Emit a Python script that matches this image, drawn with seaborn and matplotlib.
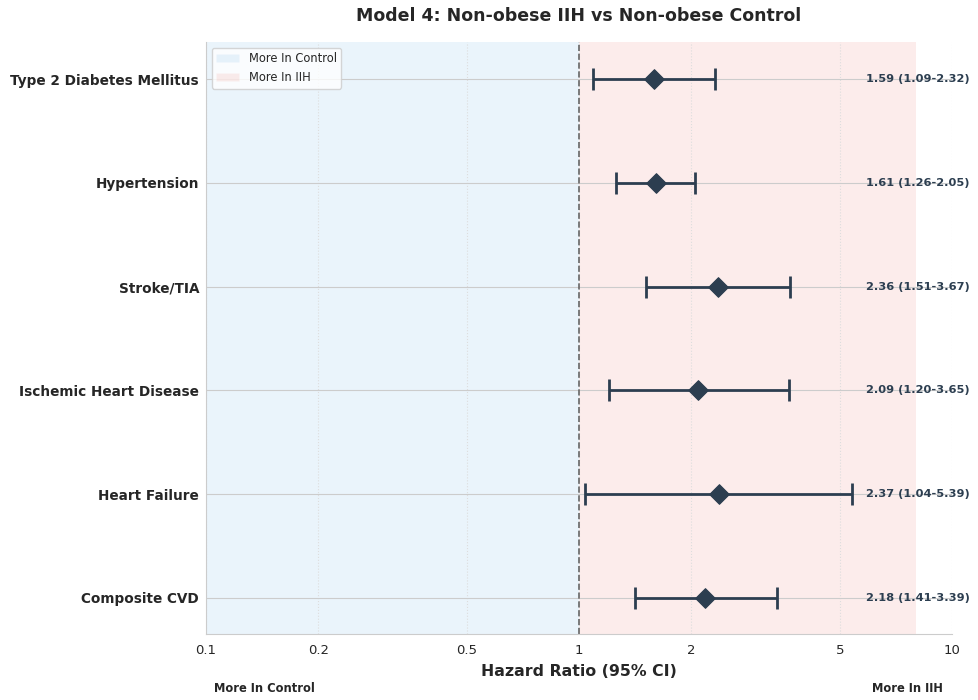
import seaborn as sns
import matplotlib.pyplot as plt
import pandas as pd
from matplotlib.patches import Patch

outcomes = ['Type 2 Diabetes Mellitus', 'Hypertension', 'Stroke/TIA',
            'Ischemic Heart Disease', 'Heart Failure', 'Composite CVD']
hr = [1.59, 1.61, 2.36, 2.09, 2.37, 2.18]
lower = [1.09, 1.26, 1.51, 1.20, 1.04, 1.41]
upper = [2.32, 2.05, 3.67, 3.65, 5.39, 3.39]
xticks = [0.1, 0.2, 0.5, 1, 2, 5, 10]

sns.set_style('whitegrid')
plt.rcParams['font.family'] = ['DejaVu Sans']

navy = '#2c3e50'
n = len(outcomes)
ypos = [n - 1 - i for i in range(n)]
df = pd.DataFrame({'outcome': outcomes, 'hr': hr, 'lo': lower, 'hi': upper, 'y': ypos})

fig, ax = plt.subplots(figsize=(9.79, 7.0), dpi=100)
fig.subplots_adjust(left=0.2104, right=0.9724, top=0.94, bottom=0.0943)

ax.axvspan(0.1, 1, color='#3498db', alpha=0.1, lw=0, zorder=0)
ax.axvspan(1, 8, color='#e74c3c', alpha=0.1, lw=0, zorder=0)
ax.axvline(1, color='#666666', ls='--', lw=1.2, zorder=1)

ax.errorbar(df['hr'], df['y'], xerr=[df['hr'] - df['lo'], df['hi'] - df['hr']],
            fmt='none', ecolor=navy, elinewidth=2, capsize=8, capthick=2, zorder=3)
sns.scatterplot(data=df, x='hr', y='y', marker='D', s=100, color=navy,
                edgecolor=navy, ax=ax, zorder=4, legend=False)

for _, r in df.iterrows():
    ax.text(0.885, r['y'], f"{r['hr']:.2f} ({r['lo']:.2f}-{r['hi']:.2f})",
            transform=ax.get_yaxis_transform(), ha='left', va='center',
            fontsize=8.2, fontweight='bold', color=navy)

ax.set_xscale('log')
ax.set_xlim(0.1, 10)
ax.set_xticks(xticks)
ax.set_xticklabels([str(t) for t in xticks], fontsize=9.5)
ax.minorticks_off()
ax.set_ylim(-0.35, n - 1 + 0.36)
ax.set_yticks(ypos)
ax.set_yticklabels(outcomes, fontsize=9.8, fontweight='bold')
ax.tick_params(axis='y', length=0, pad=5)
ax.tick_params(axis='x', length=0, pad=7)

ax.xaxis.grid(True, ls=':', color='#dddddd', lw=0.8)
ax.yaxis.grid(True, ls='-', color='#cccccc', lw=0.8)
sns.despine(ax=ax, top=True, right=True)
for s in ['left', 'bottom']:
    ax.spines[s].set_color('#cccccc')

ax.set_xlabel('Hazard Ratio (95% CI)', fontsize=11.3, fontweight='bold', labelpad=5)
ax.set_ylabel('')
ax.set_title('Model 4: Non-obese IIH vs Non-obese Control', fontsize=12.5,
             fontweight='bold', pad=15)

handles = [Patch(facecolor='#3498db', alpha=0.1, label='More In Control'),
           Patch(facecolor='#e74c3c', alpha=0.1, label='More In IIH')]
ax.legend(handles=handles, loc='upper left', fontsize=8.3, frameon=True)

fig.text(214 / 979, 1 - 688 / 700, 'More In Control', ha='left', va='center',
         fontsize=8.3, fontweight='bold')
fig.text(943 / 979, 1 - 688 / 700, 'More In IIH', ha='right', va='center',
         fontsize=8.3, fontweight='bold')

fig.savefig('out.png', dpi=100)
